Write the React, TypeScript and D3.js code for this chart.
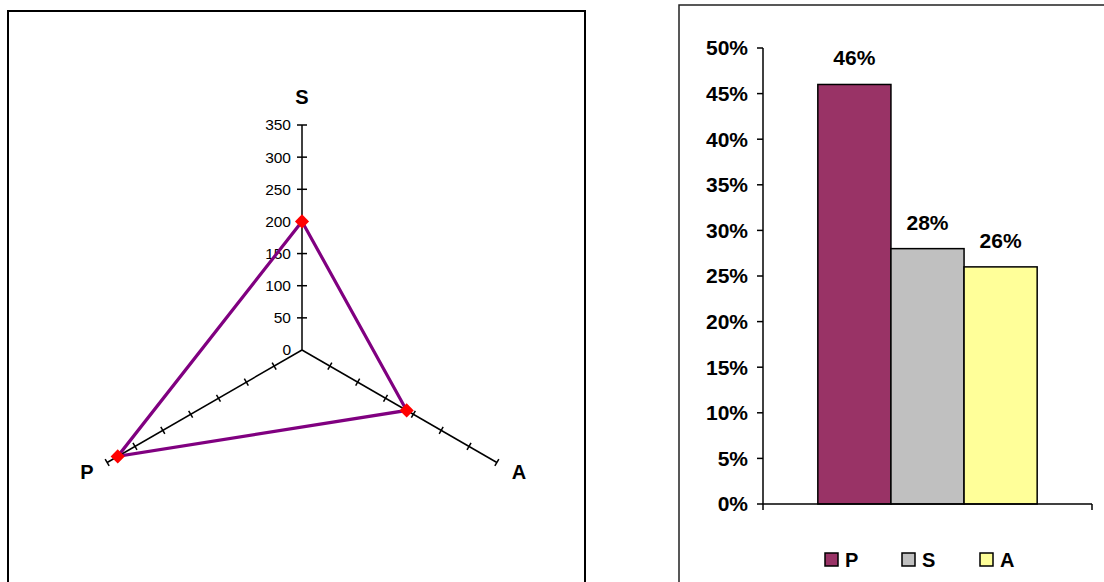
import React from "react";
import * as d3 from "d3";

const radarAxes = ["S", "A", "P"];
const radarValues = [200, 188, 331];
const radarTicks = [0, 50, 100, 150, 200, 250, 300, 350];

const barSeries = ["P", "S", "A"];
const barValues = [0.46, 0.28, 0.26];
const barColors = ["#993366", "#C0C0C0", "#FFFF99"];
const barTicks = [0, 0.05, 0.1, 0.15, 0.2, 0.25, 0.3, 0.35, 0.4, 0.45, 0.5];

const FONT = "'Liberation Sans', Arial, sans-serif";

export default function App() {
  // Radar
  const cx = 302, cy = 350;
  const r = d3.scaleLinear().domain([0, 350]).range([0, 225]);
  const angleOf: Record<string, number> = { S: -90, A: 30, P: 150 };
  const pt = (axis: string, v: number) => {
    const a = (angleOf[axis] * Math.PI) / 180;
    return [cx + r(v) * Math.cos(a), cy + r(v) * Math.sin(a)];
  };
  const poly = radarAxes.map((a, i) => pt(a, radarValues[i]));
  const polyPath = d3.line().curve(d3.curveLinearClosed)(poly as [number, number][]) || "";

  // Bars
  const y = d3.scaleLinear().domain([0, 0.5]).range([504, 48]);
  const xCat = d3.scaleBand().domain(["all"]).range([763, 1092]).paddingInner(0).paddingOuter(0.25);
  const xSer = d3.scaleBand().domain(barSeries).range([0, xCat.bandwidth()]);
  const gx = xCat("all") || 0;
  const fmt = d3.format(".0%");

  const labelPos: Record<string, [number, number, string]> = {
    S: [302, 104, "middle"],
    P: [87, 479, "middle"],
    A: [519, 479, "middle"],
  };

  return (
    <svg width={1104} height={582} style={{ position: "absolute", left: 0, top: 0, background: "#fff" }} fontFamily={FONT}>
      {/* panel borders */}
      <rect x={8} y={11} width={577} height={620} fill="#fff" stroke="#000" strokeWidth={2} />
      <rect x={679} y={5} width={500} height={620} fill="#fff" stroke="#222" strokeWidth={1.5} />

      {/* radar axes */}
      {radarAxes.map((ax) => {
        const [x2, y2] = pt(ax, 350);
        const a = (angleOf[ax] * Math.PI) / 180;
        const nx = -Math.sin(a), ny = Math.cos(a);
        const tl = ax === "S" ? 5 : 4;
        return (
          <g key={ax}>
            <line x1={cx} y1={cy} x2={x2} y2={y2} stroke="#000" strokeWidth={1.5} />
            {radarTicks.slice(1).map((t) => {
              const [tx, ty] = pt(ax, t);
              return (
                <line key={t} x1={tx - nx * tl} y1={ty - ny * tl} x2={tx + nx * tl} y2={ty + ny * tl} stroke="#000" strokeWidth={1.5} />
              );
            })}
          </g>
        );
      })}
      {radarTicks.map((t) => {
        const [, ty] = pt("S", t);
        return (
          <text key={t} x={291} y={ty} dy="0.35em" textAnchor="end" fontSize={15.5} fill="#000">
            {t}
          </text>
        );
      })}
      <path d={polyPath} fill="none" stroke="#800080" strokeWidth={3.2} strokeLinejoin="miter" />
      {poly.map(([px, py], i) => (
        <rect key={i} x={px - 5} y={py - 5} width={10} height={10} fill="#FF0000" transform={`rotate(45 ${px} ${py})`} />
      ))}
      {radarAxes.map((ax) => {
        const [lx, ly, anchor] = labelPos[ax];
        return (
          <text key={ax} x={lx} y={ly} textAnchor={anchor as any} fontSize={20} fontWeight="bold" fill="#000">
            {ax}
          </text>
        );
      })}

      {/* bar chart */}
      {barSeries.map((s, i) => (
        <g key={s}>
          <rect
            x={gx + (xSer(s) || 0)}
            y={y(barValues[i])}
            width={xSer.bandwidth()}
            height={y(0) - y(barValues[i])}
            fill={barColors[i]}
            stroke="#000"
            strokeWidth={1.5}
          />
          <text
            x={gx + (xSer(s) || 0) + xSer.bandwidth() / 2}
            y={y(barValues[i]) - 19}
            textAnchor="middle"
            fontSize={21}
            fontWeight="bold"
            fill="#000"
          >
            {fmt(barValues[i])}
          </text>
        </g>
      ))}
      <line x1={763} y1={y(0.5)} x2={763} y2={y(0)} stroke="#000" strokeWidth={1.5} />
      <line x1={763} y1={y(0)} x2={1092} y2={y(0)} stroke="#000" strokeWidth={1.5} />
      <line x1={763} y1={y(0)} x2={763} y2={y(0) + 6} stroke="#000" strokeWidth={1.5} />
      <line x1={1092} y1={y(0)} x2={1092} y2={y(0) + 6} stroke="#000" strokeWidth={1.5} />
      {barTicks.map((t) => (
        <g key={t}>
          <line x1={757} y1={y(t)} x2={763} y2={y(t)} stroke="#000" strokeWidth={1.5} />
          <text x={748} y={y(t)} dy="0.35em" textAnchor="end" fontSize={21} fontWeight="bold" fill="#000">
            {fmt(t)}
          </text>
        </g>
      ))}

      {/* legend */}
      {barSeries.map((s, i) => {
        const lx = [825, 902, 980][i];
        return (
          <g key={s}>
            <rect x={lx} y={553} width={13} height={13} fill={barColors[i]} stroke="#000" strokeWidth={1.5} />
            <text x={lx + 20} y={567} fontSize={20} fontWeight="bold" fill="#000">
              {s}
            </text>
          </g>
        );
      })}
    </svg>
  );
}
